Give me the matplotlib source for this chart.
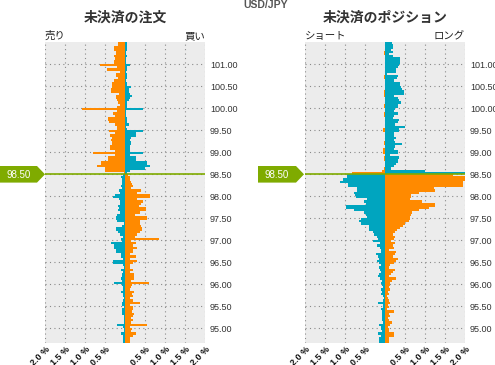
import numpy as np
import matplotlib
matplotlib.use('Agg')
import matplotlib.pyplot as plt
from matplotlib.patches import Polygon

plt.rcParams['font.family'] = ['Noto Sans CJK JP', 'DejaVu Sans']

# price bins (bottom edge of each 0.05 bucket), read from top to bottom
STEP = 0.05
CURRENT = 98.50
price_above = np.round(np.arange(101.45, 98.499, -STEP), 2)   # 60 buckets above the rate
price_below = np.round(np.arange(98.45, 94.649, -STEP), 2)    # 77 buckets below the rate

# open orders (%), left panel
orders_sell_above = [0.18, 0.18, 0.28, 0.28, 0.22, 0.22, 0.28, 0.26, 0.28, 0.28,
                     0.63, 0.21, 0.46, 0.12, 0.23, 0.23, 0.18, 0.28, 0.32, 0.32,
                     0.33, 0.36, 0.36, 0.16, 0.23, 0.23, 0.21, 0.18, 0.13, 0.21,
                     1.08, 0.21, 0.31, 0.25, 0.43, 0.43, 0.41, 0.26, 0.21, 0.21,
                     0.41, 0.26, 0.38, 0.33, 0.36, 0.33, 0.33, 0.38, 0.38, 0.26,
                     0.81, 0.26, 0.43, 0.43, 0.61, 0.61, 0.71, 0.51, 0.51, 0.03]
orders_buy_above = [0.06, 0.06, 0.06, 0.06, 0.03, 0.03, 0.06, 0.03, 0.03, 0.03,
                    0.12, 0.06, 0.06, 0.03, 0.06, 0.06, 0.06, 0.03, 0.06, 0.06,
                    0.14, 0.09, 0.09, 0.12, 0.17, 0.12, 0.09, 0.06, 0.06, 0.06,
                    0.45, 0.03, 0.03, 0.03, 0.06, 0.06, 0.06, 0.09, 0.03, 0.06,
                    0.45, 0.27, 0.27, 0.14, 0.12, 0.14, 0.14, 0.12, 0.12, 0.12,
                    0.45, 0.12, 0.27, 0.27, 0.54, 0.54, 0.62, 0.49, 0.13, 0.04]
orders_sell_below = [0.06, 0.11, 0.08, 0.08, 0.08, 0.11, 0.08, 0.16, 0.13, 0.26,
                     0.31, 0.16, 0.13, 0.13, 0.18, 0.16, 0.18, 0.13, 0.21, 0.23,
                     0.23, 0.21, 0.03, 0.08, 0.23, 0.23, 0.18, 0.13, 0.06, 0.11,
                     0.08, 0.36, 0.28, 0.28, 0.23, 0.23, 0.11, 0.11, 0.06, 0.31,
                     0.31, 0.06, 0.03, 0.11, 0.06, 0.08, 0.08, 0.11, 0.08, 0.28,
                     0.08, 0.06, 0.06, 0.11, 0.06, 0.06, 0.03, 0.06, 0.08, 0.08,
                     0.03, 0.08, 0.08, 0.08, 0.03, 0.03, 0.03, 0.03, 0.21, 0.06,
                     0.03, 0.03, 0.11, 0.06, 0.06, 0.06, 0.06]
orders_buy_below = [0.08, 0.12, 0.12, 0.14, 0.17, 0.19, 0.14, 0.39, 0.29, 0.62,
                    0.62, 0.29, 0.44, 0.39, 0.34, 0.52, 0.52, 0.37, 0.24, 0.54,
                    0.54, 0.37, 0.37, 0.39, 0.42, 0.42, 0.37, 0.29, 0.24, 0.84,
                    0.14, 0.27, 0.19, 0.29, 0.19, 0.19, 0.12, 0.27, 0.12, 0.29,
                    0.19, 0.12, 0.12, 0.19, 0.12, 0.22, 0.22, 0.22, 0.14, 0.59,
                    0.17, 0.14, 0.12, 0.22, 0.17, 0.19, 0.12, 0.19, 0.37, 0.12,
                    0.19, 0.19, 0.17, 0.22, 0.19, 0.14, 0.19, 0.14, 0.54, 0.12,
                    0.17, 0.14, 0.27, 0.19, 0.12, 0.12, 0.12]

# open positions (%), right panel
pos_short_above = [0, 0, 0, 0, 0.03, 0.03, 0, 0, 0, 0,
                   0, 0, 0, 0, 0, 0.03, 0.03, 0, 0, 0,
                   0, 0, 0.03, 0.03, 0.03, 0, 0, 0, 0.03, 0.03,
                   0, 0, 0.03, 0.03, 0, 0, 0, 0, 0, 0.05,
                   0.05, 0, 0, 0, 0, 0.03, 0.03, 0, 0.05, 0.05,
                   0.05, 0, 0.03, 0.03, 0, 0, 0, 0.03, 0.08, 0.83]
pos_long_above = [0.18, 0.20, 0.20, 0.15, 0.20, 0.10, 0.20, 0.38, 0.38, 0.38,
                  0.35, 0.33, 0.28, 0.28, 0.05, 0.33, 0.30, 0.22, 0.38, 0.38,
                  0.40, 0.42, 0.48, 0.48, 0.22, 0.33, 0.35, 0.40, 0.33, 0.33,
                  0.25, 0.22, 0.33, 0.22, 0.20, 0.35, 0.33, 0.25, 0.50, 0.35,
                  0.35, 0.22, 0.22, 0.28, 0.22, 0.25, 0.43, 0.25, 0.22, 0.33,
                  0.33, 0.13, 0.35, 0.33, 0.33, 0.28, 0.22, 0.15, 1.00, 2.60]
pos_short_below = [0.95, 0.95, 1.06, 1.13, 0.93, 0.93, 0.70, 0.70, 0.78, 0.75,
                   0.73, 0.45, 0.53, 0.48, 0.98, 0.98, 0.78, 0.53, 0.48, 0.45,
                   0.60, 0.65, 0.60, 0.40, 0.40, 0.40, 0.30, 0.28, 0.20, 0.18,
                   0.30, 0.13, 0.20, 0.13, 0.10, 0.10, 0.23, 0.18, 0.15, 0.20,
                   0.15, 0.10, 0.15, 0.13, 0.10, 0.15, 0.18, 0.13, 0.08, 0.10,
                   0.08, 0.05, 0.10, 0.08, 0.10, 0.05, 0.03, 0.05, 0.18, 0.05,
                   0.05, 0.10, 0.08, 0.08, 0.08, 0.08, 0.08, 0.05, 0.15, 0.10,
                   0.10, 0.08, 0.18, 0.10, 0.15, 0.15, 0.15]
pos_long_below = [1.69, 2.30, 2.30, 1.95, 1.95, 1.95, 1.23, 1.25, 0.85, 0.65,
                  0.65, 0.63, 0.93, 1.25, 1.25, 1.10, 0.85, 0.68, 0.65, 0.63,
                  0.63, 0.60, 0.50, 0.45, 0.38, 0.30, 0.25, 0.20, 0.25, 0.23,
                  0.15, 0.25, 0.20, 0.23, 0.10, 0.28, 0.25, 0.20, 0.33, 0.28,
                  0.23, 0.13, 0.10, 0.25, 0.20, 0.15, 0.10, 0.28, 0.18, 0.13,
                  0.13, 0.10, 0.13, 0.08, 0.10, 0.05, 0.08, 0.10, 0.13, 0.08,
                  0.10, 0.05, 0.23, 0.10, 0.13, 0.08, 0.10, 0.18, 0.13, 0.08,
                  0.10, 0.10, 0.23, 0.23, 0.10, 0.10, 0.10]

x_ticks = [-2.0, -1.5, -1.0, -0.5, 0.0, 0.5, 1.0, 1.5, 2.0]
x_labels = ['2.0 %', '1.5 %', '1.0 %', '0.5 %', '', '0.5 %', '1.0 %', '1.5 %', '2.0 %']
y_ticks = [95.0, 95.5, 96.0, 96.5, 97.0, 97.5, 98.0, 98.5, 99.0, 99.5, 100.0, 100.5, 101.0]

ORANGE = '#ff8a00'
TEAL = '#00a5bf'
GREEN = '#7fab00'
BG = '#ececec'

W, H = 495, 365
fig = plt.figure(figsize=(W / 100, H / 100), dpi=100)


def px_rect(x0, x1, y0, y1):
    return [x0 / W, 1 - y1 / H, (x1 - x0) / W, (y1 - y0) / H]


def draw_book(ax, left_above, right_above, left_below, right_below):
    ax.barh(price_above, -np.array(left_above), height=STEP, align='edge', color=ORANGE, lw=0)
    ax.barh(price_above, right_above, height=STEP, align='edge', color=TEAL, lw=0)
    ax.barh(price_below, -np.array(left_below), height=STEP, align='edge', color=TEAL, lw=0)
    ax.barh(price_below, right_below, height=STEP, align='edge', color=ORANGE, lw=0)
    ax.axhline(CURRENT, color=GREEN, lw=1.2, zorder=5)

    ax.set_xlim(-2, 2)
    ax.set_ylim(94.66, 101.5)
    ax.set_facecolor(BG)
    for s in ax.spines.values():
        s.set_visible(False)

    ax.set_xticks(x_ticks)
    ax.set_xticklabels(x_labels, rotation=45, ha='right', va='top', rotation_mode='anchor',
                       fontsize=6.5, fontweight='bold', family='Liberation Sans', color='#111')
    ax.set_yticks(y_ticks)
    ax.set_yticklabels(['%.2f' % v for v in y_ticks], fontsize=6.5,
                       family='Liberation Sans', color='#333')
    ax.yaxis.tick_right()
    ax.tick_params(axis='both', length=0)
    ax.tick_params(axis='x', pad=1.5)
    ax.tick_params(axis='y', pad=3.5)
    ax.grid(True, color='#8a8a8a', lw=0.8, ls=(0, (1, 3)))
    ax.set_axisbelow(True)


ax_ord = fig.add_axes(px_rect(45, 205, 42, 343))
draw_book(ax_ord, orders_sell_above, orders_buy_above, orders_sell_below, orders_buy_below)

ax_pos = fig.add_axes(px_rect(305, 465, 42, 343))
draw_book(ax_pos, pos_short_above, pos_long_above, pos_short_below, pos_long_below)

# overlay in pixel coordinates for titles and rate markers
ov = fig.add_axes([0, 0, 1, 1], zorder=10)
ov.set_xlim(0, W)
ov.set_ylim(H, 0)
ov.axis('off')
ov.patch.set_alpha(0)

ov.text(266, 5, 'USD/JPY', ha='center', va='center', fontsize=7.5, fontweight='bold',
        color='#555', family='Liberation Sans')
ov.text(125, 17.5, '未決済の注文', ha='center', va='center', fontsize=10,
        fontweight='bold', color='#333')
ov.text(385, 17.5, '未決済のポジション', ha='center', va='center', fontsize=10,
        fontweight='bold', color='#333')
ov.text(45, 36, '売り', ha='left', va='center', fontsize=7.5, color='#222')
ov.text(205, 36, '買い', ha='right', va='center', fontsize=7.5, color='#222')
ov.text(305, 36, 'ショート', ha='left', va='center', fontsize=7.5, color='#222')
ov.text(465, 36, 'ロング', ha='right', va='center', fontsize=7.5, color='#222')

for x0, x1, tip in [(0, 37, 45), (258, 296, 304)]:
    ov.add_patch(Polygon([(x0, 166), (x1, 166), (tip, 174.3), (x1, 182.6), (x0, 182.6)],
                         closed=True, color=GREEN, lw=0))
    ov.text((x0 + x1) / 2, 174.5, '%.2f' % CURRENT, ha='center', va='center', fontsize=7,
            color='white', family='Liberation Sans')

fig.savefig('out.png', dpi=100)
